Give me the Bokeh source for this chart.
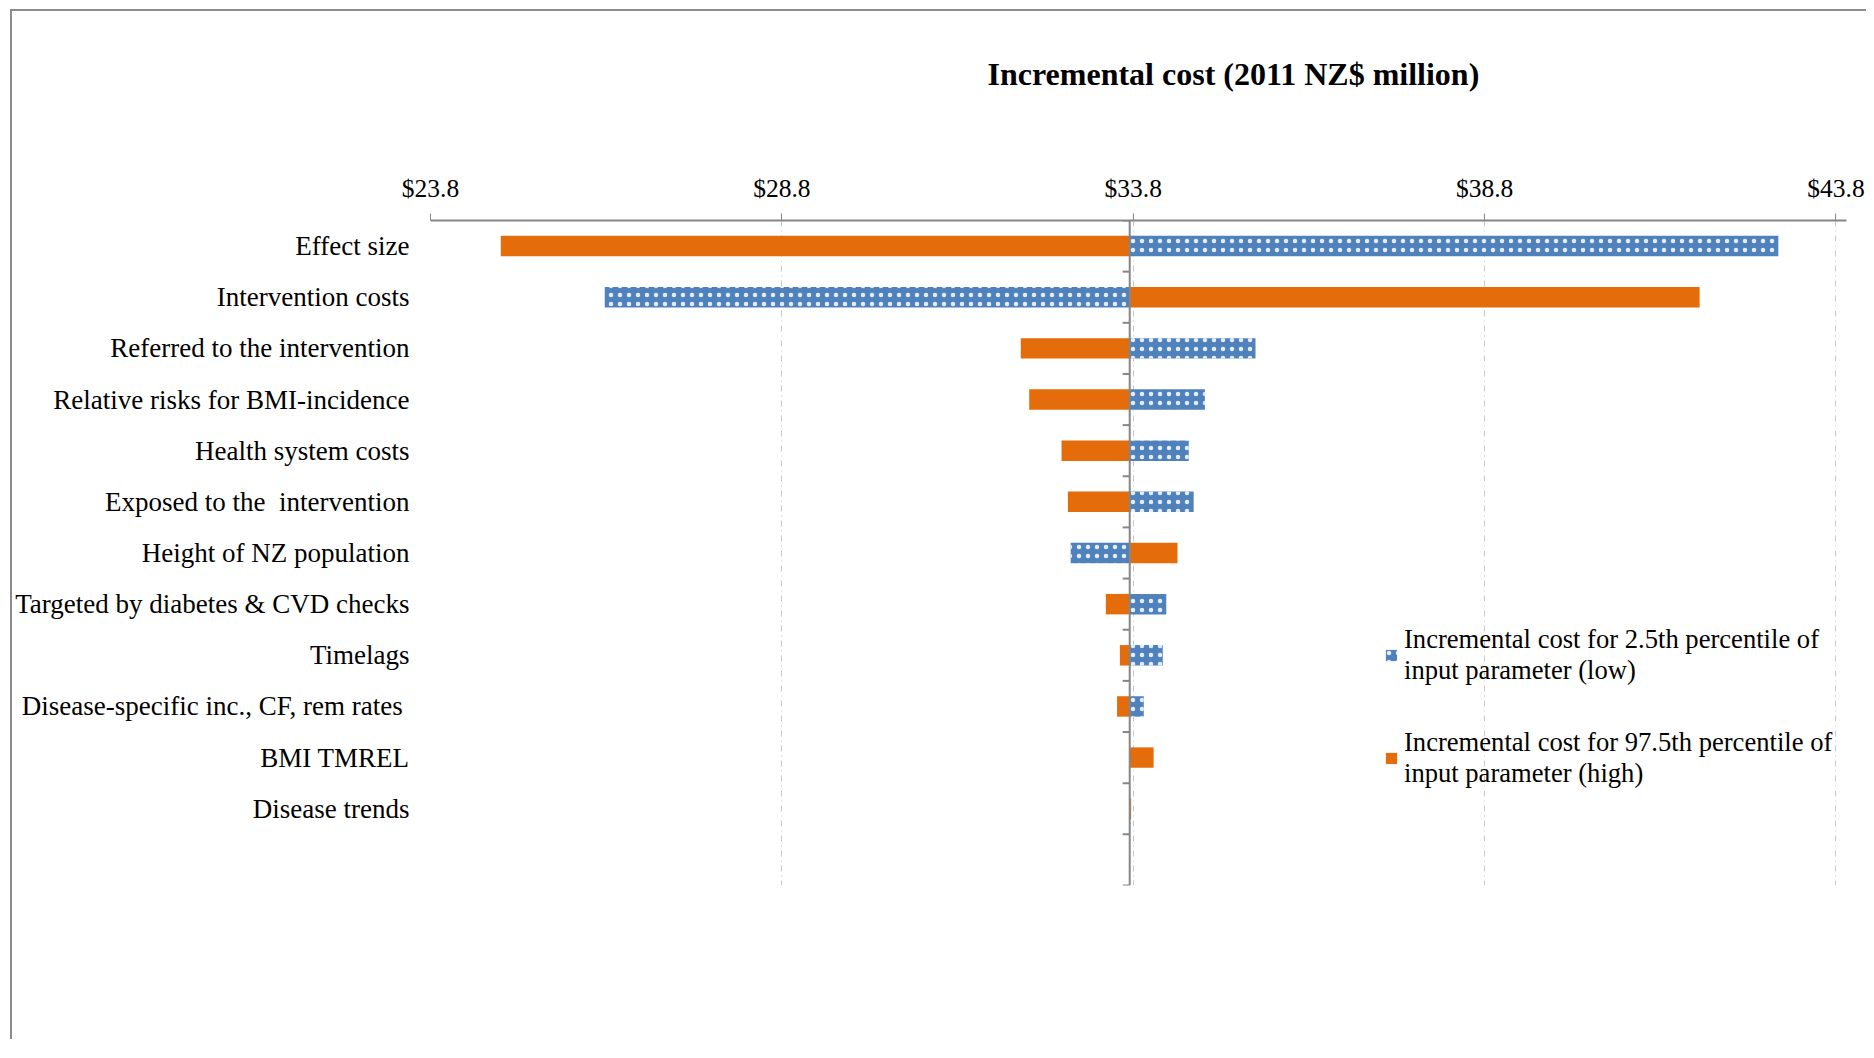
from bokeh.plotting import figure
from bokeh.models import (Range1d, FixedTicker, PrintfTickFormatter, Span, Legend,
                          LegendItem, ColumnDataSource, Title)
from bokeh.embed import file_html
from bokeh.resources import INLINE

# ---- data -------------------------------------------------------------
categories = [
    "Effect size",
    "Intervention costs",
    "Referred to the intervention",
    "Relative risks for BMI-incidence",
    "Health system costs",
    "Exposed to the\u00a0 intervention",
    "Height of NZ population",
    "Targeted by diabetes & CVD checks",
    "Timelags",
    "Disease-specific inc., CF, rem rates ",
    "BMI TMREL",
    "Disease trends",
]
base_cost = 33.75
low_values = [42.98, 26.28, 35.54, 34.82, 34.59, 34.66, 32.91, 34.27, 34.22, 33.95, 33.75, 33.75]
high_values = [24.80, 41.86, 32.20, 32.32, 32.78, 32.87, 34.43, 33.41, 33.61, 33.57, 34.09, 33.77]
x_ticks = [23.8, 28.8, 33.8, 38.8, 43.8]
title_text = "Incremental cost (2011 NZ$ million)"
legend_low = "Incremental cost for 2.5th percentile of\ninput parameter (low)"
legend_high = "Incremental cost for 97.5th percentile of\ninput parameter (high)"

BLUE = "#4F81BD"
ORANGE = "#E46C0A"
AXIS_GREY = "#868686"
FONT = "Liberation Serif"

n_slots = len(categories) + 1  # Excel leaves one empty slot at the bottom
rows = [i + 0.5 for i in range(len(categories))]

src = ColumnDataSource(dict(
    y=rows,
    base=[base_cost] * len(categories),
    low=low_values,
    high=high_values,
))

p = figure(
    width=1856, height=1030,
    x_range=Range1d(23.8, 43.95),
    y_range=Range1d(n_slots, 0),
    x_axis_location="above",
    output_backend="svg",
    toolbar_location=None,
    min_border_left=405, min_border_right=22,
    min_border_top=209, min_border_bottom=156,
)
p.styles = {"margin-left": "10px", "margin-top": "9px",
            "border-left": "2px solid #8c8c8c", "border-top": "2px solid #8c8c8c"}
p.outline_line_color = None
p.background_fill_color = "white"
p.border_fill_color = "white"

# spacer between the value axis and the title
p.add_layout(Title(text=" ", text_font_size="1px", standoff=76), "above")

# title
p.title.text = title_text
p.title.text_font = FONT
p.title.text_font_size = "32px"
p.title.text_font_style = "bold"
p.title.text_color = "black"
p.title.align = "left"
p.title.offset = 557
p.title.standoff = 0

# bars
r_high = p.hbar(y="y", left="base", right="high", height=0.4, source=src,
                fill_color=ORANGE, line_color=None)
r_low = p.hbar(y="y", left="base", right="low", height=0.4, source=src,
               fill_color=BLUE, line_color=None,
               hatch_pattern="dot", hatch_color="white", hatch_scale=9,
               hatch_weight=1.5, hatch_alpha=0.85)

# central value axis line + its category-boundary ticks
p.add_layout(Span(location=base_cost, dimension="height",
                  line_color=AXIS_GREY, line_width=2))
bounds = list(range(n_slots + 1))
tick_len = 0.1
p.segment(x0=[base_cost - tick_len] * len(bounds), x1=[base_cost] * len(bounds),
          y0=bounds, y1=bounds, line_color=AXIS_GREY, line_width=2)

# top x axis
xa = p.xaxis[0]
xa.ticker = FixedTicker(ticks=x_ticks)
xa.formatter = PrintfTickFormatter(format="$%.1f")
xa.axis_line_color = AXIS_GREY
xa.axis_line_width = 2
xa.major_tick_line_color = AXIS_GREY
xa.major_tick_out = 7
xa.major_tick_in = 0
xa.minor_tick_line_color = None
xa.major_label_text_font = FONT
xa.major_label_text_font_size = "25.5px"
xa.major_label_text_color = "black"
xa.major_label_standoff = 11

# left category axis (labels only)
ya = p.yaxis[0]
ya.ticker = FixedTicker(ticks=rows)
ya.major_label_overrides = {r: c for r, c in zip(rows, categories)}
ya.axis_line_color = None
ya.major_tick_line_color = None
ya.minor_tick_line_color = None
ya.major_tick_out = 0
ya.major_tick_in = 0
ya.minor_tick_out = 0
ya.major_label_standoff = 21
ya.major_label_text_font = FONT
ya.major_label_text_font_size = "27px"
ya.major_label_text_color = "black"

# grids
p.xgrid.ticker = FixedTicker(ticks=x_ticks)
p.xgrid.grid_line_color = "#c8c8c8"
p.xgrid.grid_line_dash = "6 4 1 4"
p.xgrid.grid_line_width = 1
p.ygrid.grid_line_color = None

# legend
legend = Legend(
    items=[LegendItem(label=legend_low, renderers=[r_low]),
           LegendItem(label=legend_high, renderers=[r_high])],
    location=(954, 96),
    orientation="vertical",
    border_line_color=None,
    background_fill_alpha=0,
    padding=0, margin=0,
    spacing=41,
    glyph_width=14, glyph_height=14,
    label_standoff=6,
    label_text_font=FONT,
    label_text_font_size="26.6px",
    label_text_color="black",
    label_text_line_height=1.15,
)
p.add_layout(legend, "center")

open("out.html", "w").write(file_html(p, INLINE))
